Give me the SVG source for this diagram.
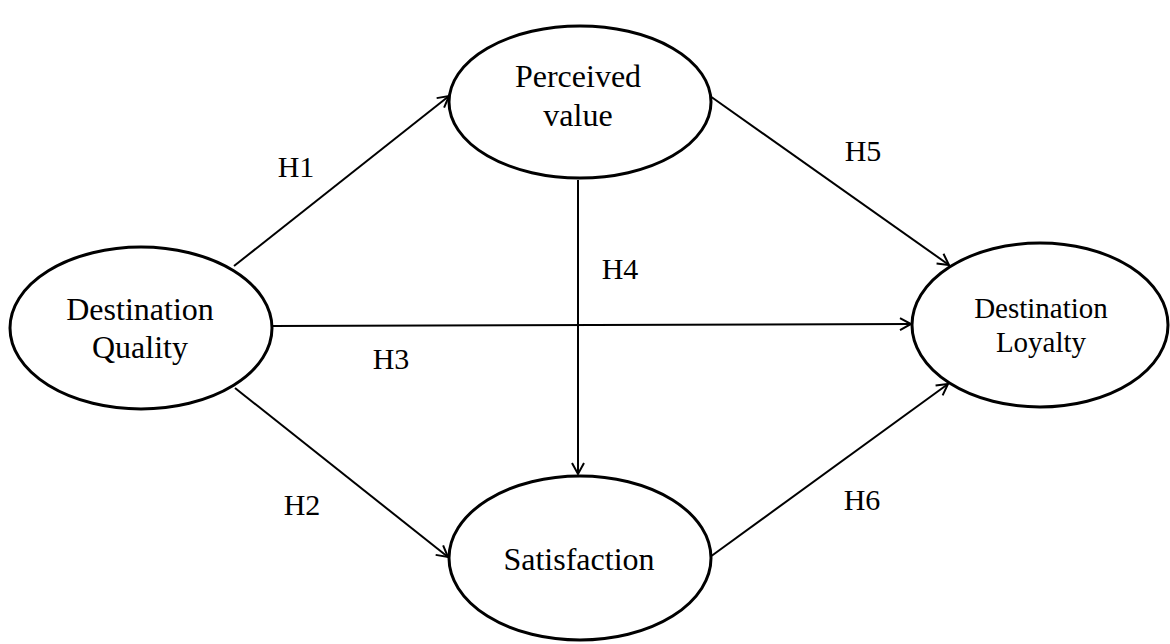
<svg xmlns="http://www.w3.org/2000/svg" width="1170" height="644" viewBox="0 0 1170 644">
<style>
.node{fill:#fff;stroke:#000;stroke-width:3}
.lbl{font-family:"Liberation Serif","Times New Roman",serif;fill:#000;text-anchor:middle}
.big{font-size:32px}
.med{font-size:29px}
.h{font-size:30px}
.edge{stroke:#000;stroke-width:2;fill:none;marker-end:url(#arr)}
</style>
<defs>
<marker id="arr" markerUnits="userSpaceOnUse" markerWidth="16" markerHeight="16" viewBox="0 0 16 16" refX="13" refY="8" orient="auto">
<path d="M2,2 L13,8 L2,14" fill="none" stroke="#000" stroke-width="2"/>
</marker>
</defs>
<rect width="1170" height="644" fill="#fff"/>
<g id="connectors">
<line class="edge" x1="234" y1="266" x2="449" y2="96"/>
<line class="edge" x1="710" y1="96" x2="949" y2="265"/>
<line class="edge" x1="578" y1="180" x2="578" y2="474"/>
<line class="edge" x1="272" y1="326" x2="911" y2="324"/>
<line class="edge" x1="235" y1="388" x2="448" y2="557"/>
<line class="edge" x1="710" y1="557" x2="948" y2="384"/>
<text class="lbl h" x="296" y="177">H1</text>
<text class="lbl h" x="302" y="515">H2</text>
<text class="lbl h" x="391" y="369">H3</text>
<text class="lbl h" x="620" y="279">H4</text>
<text class="lbl h" x="863" y="161">H5</text>
<text class="lbl h" x="862" y="510">H6</text>
</g>
<g id="destination-quality">
<ellipse class="node" cx="141" cy="328" rx="131" ry="81"/>
<text class="lbl big" x="140" y="320">Destination</text>
<text class="lbl big" x="140" y="358">Quality</text>
</g>
<g id="perceived-value">
<ellipse class="node" cx="580" cy="102" rx="131" ry="76"/>
<text class="lbl big" x="578" y="87">Perceived</text>
<text class="lbl big" x="578" y="126">value</text>
</g>
<g id="destination-loyalty">
<ellipse class="node" cx="1040" cy="325" rx="128" ry="82"/>
<text class="lbl med" x="1041" y="318">Destination</text>
<text class="lbl med" x="1041" y="352">Loyalty</text>
</g>
<g id="satisfaction">
<ellipse class="node" cx="580" cy="558" rx="131" ry="82"/>
<text class="lbl big" x="579" y="570">Satisfaction</text>
</g>
</svg>
